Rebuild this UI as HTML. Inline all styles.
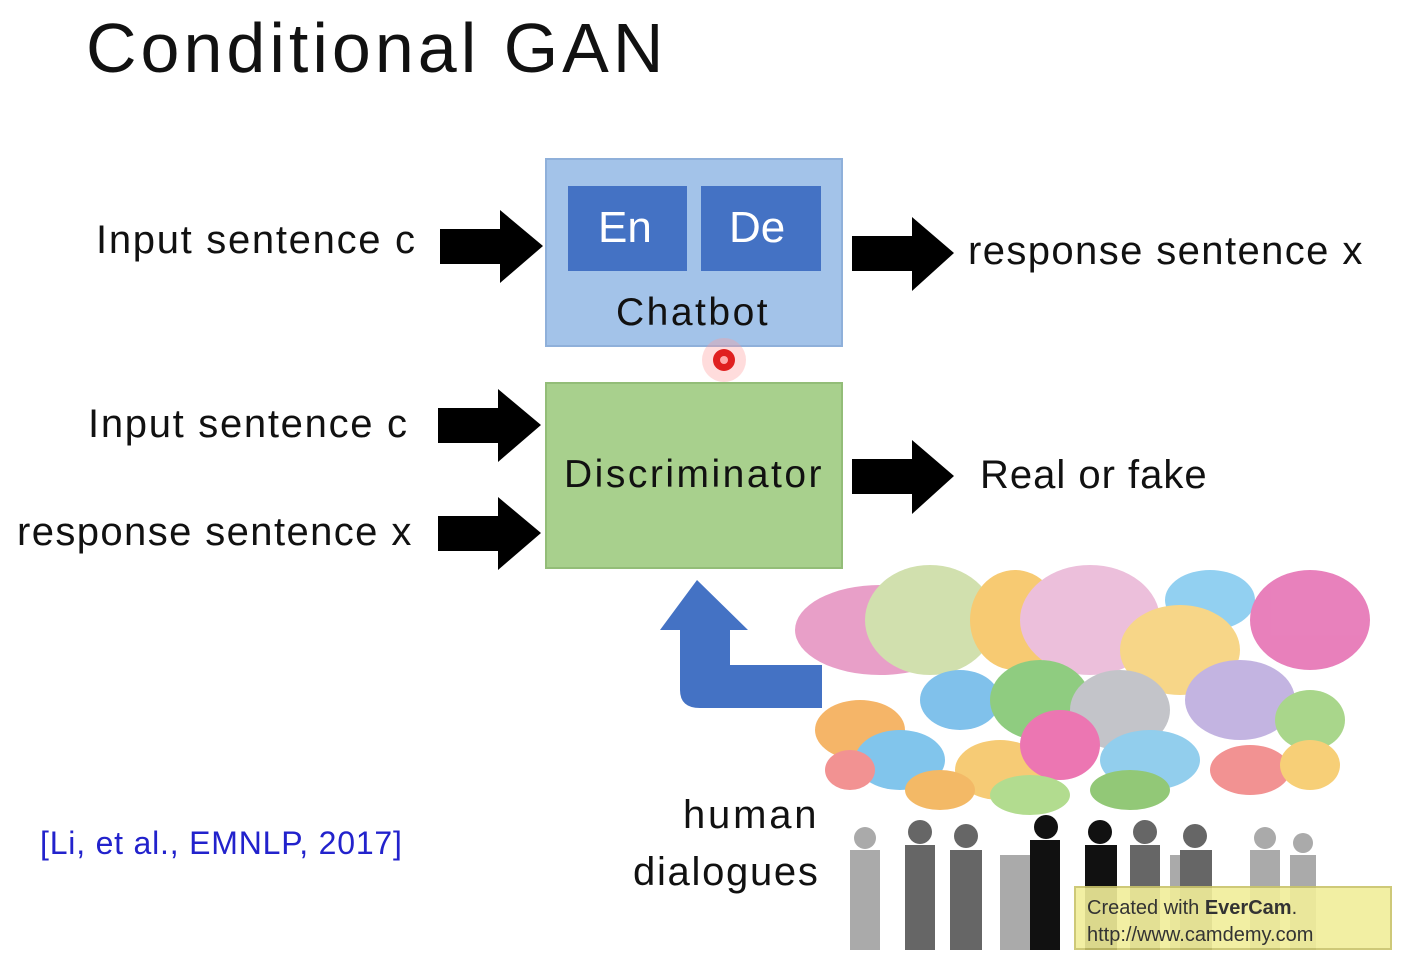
<!DOCTYPE html>
<html><head><style>
body{margin:0;width:1403px;height:959px;background:#fff;overflow:hidden;position:relative;font-family:"Liberation Sans","DejaVu Sans",sans-serif;}
.t{position:absolute;white-space:nowrap;color:#111;}
</style></head><body>
<svg width="1403" height="959" style="position:absolute;left:0;top:0">
<rect x="546" y="159" width="296" height="187" fill="#a3c3e9" stroke="#8fb0da" stroke-width="2"/>
<rect x="568" y="186" width="119" height="85" fill="#4472c4"/>
<rect x="701" y="186" width="120" height="85" fill="#4472c4"/>
<rect x="546" y="383" width="296" height="185" fill="#a8d08d" stroke="#93bd78" stroke-width="2"/>
<g fill="#000">
<polygon points="440,229 500,229 500,210 543,246 500,283 500,264 440,264"/>
<polygon points="852,236 912,236 912,217 954,253 912,291 912,271 852,271"/>
<polygon points="438,408 498,408 498,389 541,425 498,462 498,443 438,443"/>
<polygon points="438,516 498,516 498,497 541,533 498,570 498,551 438,551"/>
<polygon points="852,459 912,459 912,440 954,476 912,514 912,494 852,494"/>
</g>
<path d="M822,665 L730,665 L730,630 L748,630 L697,580 L660,630 L680,630 L680,690 Q680,708 700,708 L822,708 Z" fill="#4472c4"/>
<circle cx="724" cy="360" r="22" fill="#ff9a9a" opacity="0.35"/>
<circle cx="724" cy="360" r="11" fill="#e02020"/>
<circle cx="724" cy="360" r="4" fill="#ffaaaa"/>
<g opacity="0.85">
<ellipse cx="880" cy="630" rx="85" ry="45" fill="#e58fbf"/>
<ellipse cx="930" cy="620" rx="65" ry="55" fill="#c9dba0"/>
<ellipse cx="1015" cy="620" rx="45" ry="50" fill="#f6c15a"/>
<ellipse cx="1090" cy="620" rx="70" ry="55" fill="#e9b5d5"/>
<ellipse cx="1210" cy="600" rx="45" ry="30" fill="#7fc8ef"/>
<ellipse cx="1310" cy="620" rx="60" ry="50" fill="#e46bb0"/>
<ellipse cx="1180" cy="650" rx="60" ry="45" fill="#f6cf74"/>
<ellipse cx="960" cy="700" rx="40" ry="30" fill="#6ab7e8"/>
<ellipse cx="1040" cy="700" rx="50" ry="40" fill="#7cc46b"/>
<ellipse cx="1120" cy="710" rx="50" ry="40" fill="#b9bac0"/>
<ellipse cx="1240" cy="700" rx="55" ry="40" fill="#b9a7dc"/>
<ellipse cx="1310" cy="720" rx="35" ry="30" fill="#9bd077"/>
<ellipse cx="860" cy="730" rx="45" ry="30" fill="#f4a94e"/>
<ellipse cx="900" cy="760" rx="45" ry="30" fill="#6cbbe9"/>
<ellipse cx="1000" cy="770" rx="45" ry="30" fill="#f5c35d"/>
<ellipse cx="1060" cy="745" rx="40" ry="35" fill="#e95fa5"/>
<ellipse cx="1150" cy="760" rx="50" ry="30" fill="#7fc6ea"/>
<ellipse cx="1250" cy="770" rx="40" ry="25" fill="#f07f7f"/>
<ellipse cx="1310" cy="765" rx="30" ry="25" fill="#f6c760"/>
<ellipse cx="940" cy="790" rx="35" ry="20" fill="#f2ad4c"/>
<ellipse cx="1030" cy="795" rx="40" ry="20" fill="#a5d77c"/>
<ellipse cx="1130" cy="790" rx="40" ry="20" fill="#7fbf60"/>
<ellipse cx="850" cy="770" rx="25" ry="20" fill="#f08080"/>
</g>
<g fill="#aaa">
<rect x="850" y="850" width="30" height="100"/><circle cx="865" cy="838" r="11"/>
<rect x="1250" y="850" width="30" height="100"/><circle cx="1265" cy="838" r="11"/>
<rect x="1290" y="855" width="26" height="95"/><circle cx="1303" cy="843" r="10"/>
<rect x="1000" y="855" width="30" height="95"/>
<rect x="1170" y="855" width="30" height="95"/>
</g>
<g fill="#666">
<rect x="905" y="845" width="30" height="105"/><circle cx="920" cy="832" r="12"/>
<rect x="950" y="850" width="32" height="100"/><circle cx="966" cy="836" r="12"/>
<rect x="1130" y="845" width="30" height="105"/><circle cx="1145" cy="832" r="12"/>
<rect x="1180" y="850" width="32" height="100"/><circle cx="1195" cy="836" r="12"/>
</g>
<g fill="#111">
<rect x="1030" y="840" width="30" height="110"/><circle cx="1046" cy="827" r="12"/>
<rect x="1085" y="845" width="32" height="105"/><circle cx="1100" cy="832" r="12"/>
</g>
<rect x="1075" y="887" width="316" height="62" fill="#f1ee9a" stroke="#c9c46a" stroke-width="2" opacity="0.9"/>
</svg>
<div class="t" style="left:86px;top:8px;font-size:70px;letter-spacing:4px;">Conditional GAN</div>
<div class="t" style="left:598px;top:203px;font-size:44px;color:#fff;">En</div>
<div class="t" style="left:729px;top:203px;font-size:44px;color:#fff;">De</div>
<div class="t" style="left:616px;top:291px;font-size:39px;letter-spacing:2.5px;">Chatbot</div>
<div class="t" style="left:564px;top:453px;font-size:39px;letter-spacing:2.5px;">Discriminator</div>
<div class="t" style="left:96px;top:218px;font-size:40px;letter-spacing:1.7px;">Input sentence c</div>
<div class="t" style="left:968px;top:229px;font-size:40px;letter-spacing:1.4px;">response sentence x</div>
<div class="t" style="left:88px;top:402px;font-size:40px;letter-spacing:1.7px;">Input sentence c</div>
<div class="t" style="left:17px;top:510px;font-size:40px;letter-spacing:1.4px;">response sentence x</div>
<div class="t" style="left:980px;top:453px;font-size:40px;letter-spacing:1px;">Real or fake</div>
<div class="t" style="left:683px;top:793px;font-size:40px;letter-spacing:2.8px;">human</div>
<div class="t" style="left:633px;top:850px;font-size:40px;letter-spacing:1.7px;">dialogues</div>
<div class="t" style="left:40px;top:825px;font-size:32px;color:#2222cc;letter-spacing:0.8px;">[Li, et al., EMNLP, 2017]</div>
<div class="t" style="left:1087px;top:895px;font-size:20px;color:#333;line-height:27px;">Created with <b>EverCam</b>.<br>http://www.camdemy.com</div>
</body></html>
